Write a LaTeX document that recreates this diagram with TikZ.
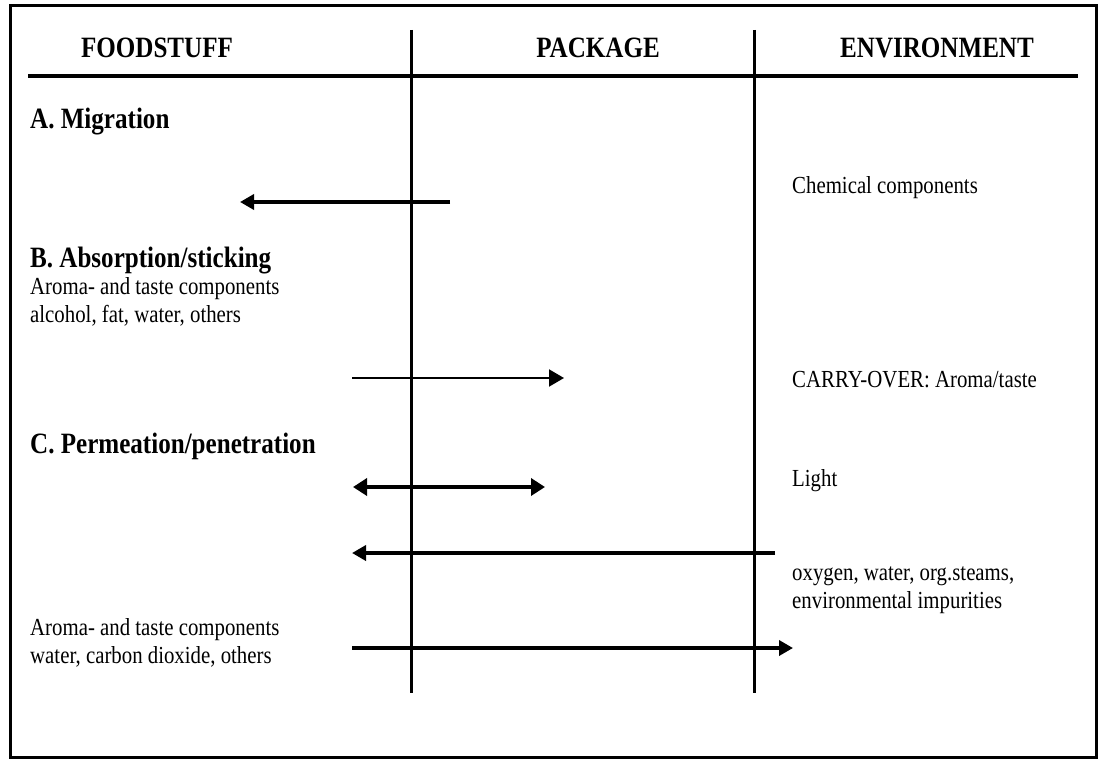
\documentclass[tikz,border=0pt]{standalone}
\usepackage{fontspec}
\setmainfont{Liberation Serif}[FakeStretch=0.85]
\usetikzlibrary{arrows.meta}
\begin{document}
\begin{tikzpicture}[x=1pt,y=-1pt,
  lbl/.style={anchor=base west,inner sep=0pt,font=\fontsize{24.5}{28}\selectfont},
  ttl/.style={anchor=base west,inner sep=0pt,font=\fontsize{29.5}{34}\selectfont\bfseries},
  hdr/.style={anchor=base,inner sep=0pt,font=\fontsize{29.5}{34}\selectfont\bfseries},
  rule/.style={line width=3pt},
  thick arrow/.style={line width=3.5pt,-{Triangle[length=14pt,width=15pt]}},
  thin arrow/.style={line width=2pt,-{Triangle[length=15pt,width=17pt]}},
  both arrow/.style={line width=3.5pt,{Triangle[length=14pt,width=17pt]}-{Triangle[length=14pt,width=17pt]}}
]
\useasboundingbox (0,0) rectangle (1102,760);
\fill[white] (0,0) rectangle (1102,760);
% frame
\draw[line width=3pt] (10,6) rectangle (1096,757);
% header rule and column rules
\coordinate (hl) at (28,76);
\coordinate (hr) at (1078,76);
\draw[line width=4pt] (hl) -- (hr);
\coordinate (v1t) at (411,30);
\coordinate (v1b) at (411,693);
\coordinate (v2t) at (754,30);
\coordinate (v2b) at (754,693);
\draw[rule] (v1t) -- (v1b);
\draw[rule] (v2t) -- (v2b);
% headers
\node[hdr] (hfood) at (157,58) {FOODSTUFF};
\node[hdr] (hpack) at (598,58) {PACKAGE};
\node[hdr] (henv) at (937,58) {ENVIRONMENT};
% left texts
\node[ttl] (ta) at (30,128) {A. Migration};
\node[ttl] (tb) at (30,267) {B. Absorption/sticking};
\node[lbl] (tb1) at (30,294) {Aroma- and taste components};
\node[lbl] (tb2) at (30,322) {alcohol, fat, water, others};
\node[ttl] (tc) at (30,453) {C. Permeation/penetration};
\node[lbl] (tc1) at (30,635) {Aroma- and taste components};
\node[lbl] (tc2) at (30,663) {water, carbon dioxide, others};
% right texts
\node[lbl] (e1) at (792,193) {Chemical components};
\node[lbl] (e2) at (792,387) {CARRY-OVER: Aroma/taste};
\node[lbl] (e3) at (792,486) {Light};
\node[lbl] (e4) at (792,580) {oxygen, water, org.steams,};
\node[lbl] (e5) at (792,608) {environmental impurities};
% arrows
\coordinate (a1s) at (450,202);
\coordinate (a1e) at (240,202);
\draw[thick arrow] (a1s) -- (a1e);
\coordinate (a2s) at (352,378);
\coordinate (a2e) at (564,378);
\draw[thin arrow] (a2s) -- (a2e);
\coordinate (a3s) at (353,487);
\coordinate (a3e) at (545,487);
\draw[both arrow] (a3s) -- (a3e);
\coordinate (a4s) at (775,553);
\coordinate (a4e) at (352,553);
\draw[thick arrow] (a4s) -- (a4e);
\coordinate (a5s) at (352,648);
\coordinate (a5e) at (793,648);
\draw[thick arrow] (a5s) -- (a5e);
\end{tikzpicture}
\end{document}
